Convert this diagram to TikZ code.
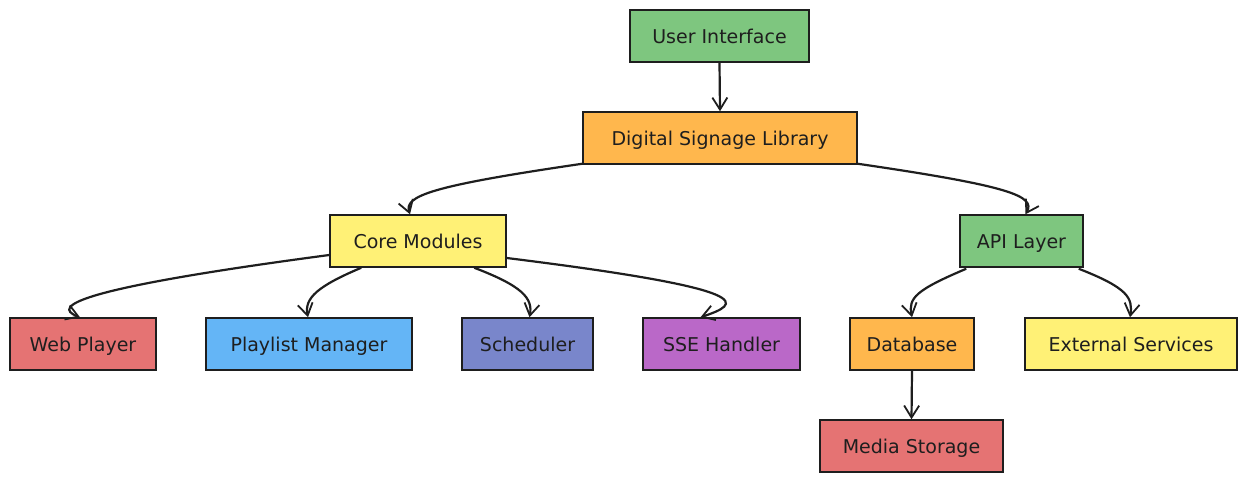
\documentclass[tikz,border=0pt]{standalone}
\usepackage{fontspec}
\setmainfont{DejaVu Sans}
\usetikzlibrary{arrows.meta,calc}
\definecolor{cgreen}{HTML}{7EC67F}
\definecolor{corange}{HTML}{FFB74D}
\definecolor{cyellow}{HTML}{FFF176}
\definecolor{cred}{HTML}{E57373}
\definecolor{cblue}{HTML}{64B5F6}
\definecolor{cindigo}{HTML}{7986CB}
\definecolor{cpurple}{HTML}{BA68C8}
\definecolor{cink}{HTML}{1E1E1E}
\tikzset{
  box/.style={draw=cink, line width=1.5pt, minimum height=52pt, inner sep=0pt,
    font=\fontsize{19}{21}\selectfont, text=cink, text height=16pt, text depth=2pt},
  conn/.style={draw=cink, line width=2.2pt, -{Straight Barb[length=12pt,width=15pt,line width=1.8pt]}}
}
\begin{document}
\begin{tikzpicture}[x=1pt,y=-1pt]
\useasboundingbox[fill=white] (0,0) rectangle (1247,483);
\node[box, fill=cgreen, minimum width=179pt] (ui) at (719.5,36) {User Interface};
\node[box, fill=corange, minimum width=274pt] (dsl) at (720,138) {Digital Signage Library};
\node[box, fill=cyellow, minimum width=176pt] (core) at (418,241) {Core Modules};
\node[box, fill=cgreen, minimum width=123pt] (api) at (1021.5,241) {API Layer};
\node[box, fill=cred, minimum width=146pt] (web) at (83,344) {Web Player};
\node[box, fill=cblue, minimum width=206pt] (pl) at (309,344) {Playlist Manager};
\node[box, fill=cindigo, minimum width=131pt] (sch) at (527.5,344) {Scheduler};
\node[box, fill=cpurple, minimum width=157pt] (sse) at (721.5,344) {SSE Handler};
\node[box, fill=corange, minimum width=124pt] (db) at (912,344) {Database};
\node[box, fill=cyellow, minimum width=212pt] (ext) at (1131,344) {External Services};
\node[box, fill=cred, minimum width=183pt] (media) at (911.5,446) {Media Storage};

\draw[conn] (ui.south) -- (dsl.north);
\draw[conn] ($(dsl.south west)+(0,-1)$) .. controls (430,186) and (404,196) .. ($(core.north)+(-8,0)$);
\draw[conn] ($(dsl.south east)+(0,-1)$) .. controls (1010,186) and (1036,196) .. ($(api.north)+(4,0)$);
\draw[conn] ($(core.west)+(0,14)$) .. controls (80,288) and (50,306) .. ($(web.north)+(-3,0)$);
\draw[conn] ($(core.south west)+(32,0)$) .. controls (318,286) and (304,298) .. ($(pl.north)+(-1,0)$);
\draw[conn] ($(core.south west)+(145,0)$) .. controls (522,286) and (533,298) .. ($(sch.north)+(2,0)$);
\draw[conn] ($(core.east)+(0,17)$) .. controls (765,290) and (740,304) .. ($(sse.north)+(-21,0)$);
\draw[conn] ($(api.south west)+(7,1)$) .. controls (916,290) and (908,298) .. (db.north);
\draw[conn] ($(api.south east)+(-5,1)$) .. controls (1128,288) and (1133,298) .. ($(ext.north)+(-1,0)$);
\draw[conn] (db.south) -- (media.north);
\end{tikzpicture}
\end{document}
